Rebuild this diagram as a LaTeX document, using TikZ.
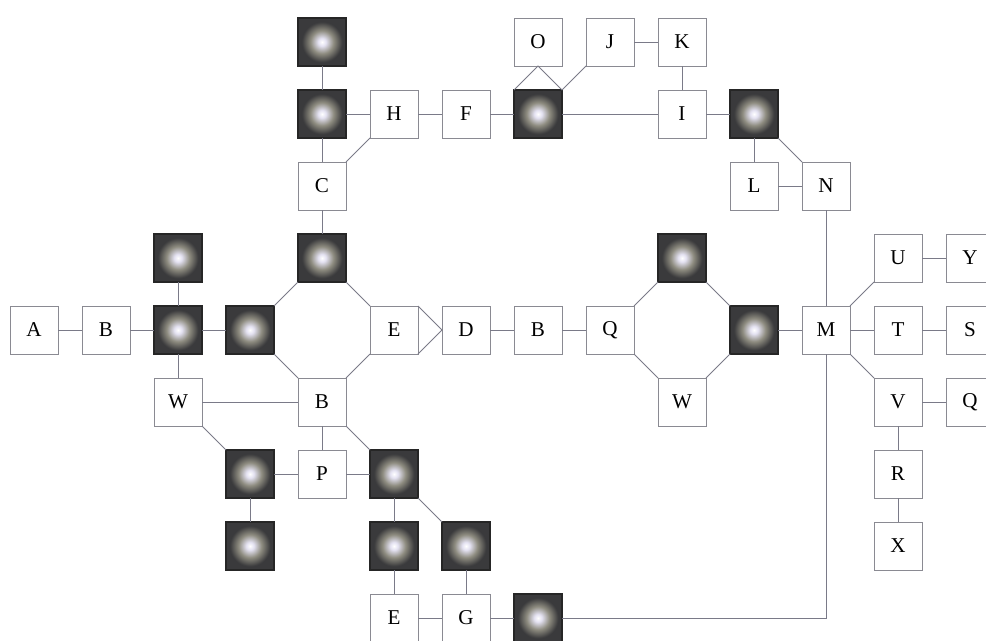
\documentclass[tikz,border=0pt]{standalone}
\usepackage{fontspec}
\setmainfont{Liberation Serif}
\definecolor{boxline}{HTML}{8A8A92}
\definecolor{linecol}{HTML}{7A7A88}
\definecolor{glowedge}{HTML}{3A3A3C}
\definecolor{glowmid}{HTML}{8E8C80}
\definecolor{glowin}{HTML}{E4E2F2}
\pgfdeclareradialshading{glow}{\pgfpoint{0bp}{0bp}}{color(0bp)=(white); color(4bp)=(glowin); color(12bp)=(glowmid); color(21bp)=(glowedge); color(25bp)=(glowedge); color(50bp)=(glowedge)}
\tikzset{
  box/.style={draw=boxline, line width=0.7pt, fill=white, minimum size=1.44cm, inner sep=0pt, outer sep=0pt, font=\fontsize{18}{18}\selectfont},
  glowbox/.style={draw=black!85, line width=0.9pt, shading=glow, minimum size=1.44cm, inner sep=0pt, outer sep=0pt},
  link/.style={draw=linecol, line width=0.7pt}
}
\begin{document}
\begin{tikzpicture}[x=0.03cm, y=-0.03cm]
\useasboundingbox (0,0) rectangle (986,640);
% white boxes
\node[box] (a)  at (34,330)  {A};
\node[box] (b1) at (106,330) {B};
\node[box] (w1) at (178,402) {W};
\node[box] (c)  at (322,186) {C};
\node[box] (h)  at (394,114) {H};
\node[box] (f)  at (466,114) {F};
\node[box] (o)  at (538,42)  {O};
\node[box] (j)  at (610,42)  {J};
\node[box] (k)  at (682,42)  {K};
\node[box] (i)  at (682,114) {I};
\node[box] (l)  at (754,186) {L};
\node[box] (n)  at (826,186) {N};
\node[box] (e1) at (394,330) {E};
\node[box] (d)  at (466,330) {D};
\node[box] (b2) at (538,330) {B};
\node[box] (q1) at (610,330) {Q};
\node[box] (w2) at (682,402) {W};
\node[box] (m)  at (826,330) {M};
\node[box] (u)  at (898,258) {U};
\node[box] (y)  at (970,258) {Y};
\node[box] (t)  at (898,330) {T};
\node[box] (s)  at (970,330) {S};
\node[box] (v)  at (898,402) {V};
\node[box] (q2) at (970,402) {Q};
\node[box] (r)  at (898,474) {R};
\node[box] (x)  at (898,546) {X};
\node[box] (b3) at (322,402) {B};
\node[box] (p)  at (322,474) {P};
\node[box] (e2) at (394,618) {E};
\node[box] (g)  at (466,618) {G};
% glowing boxes
\node[glowbox] (g24)  at (178,330) {};
\node[glowbox] (g23)  at (178,258) {};
\node[glowbox] (g34)  at (250,330) {};
\node[glowbox] (g43)  at (322,258) {};
\node[glowbox] (g41)  at (322,114) {};
\node[glowbox] (g40)  at (322,42)  {};
\node[glowbox] (g71)  at (538,114) {};
\node[glowbox] (g101) at (754,114) {};
\node[glowbox] (g93)  at (682,258) {};
\node[glowbox] (g104) at (754,330) {};
\node[glowbox] (g36)  at (250,474) {};
\node[glowbox] (g37)  at (250,546) {};
\node[glowbox] (g56)  at (394,474) {};
\node[glowbox] (g57)  at (394,546) {};
\node[glowbox] (g67)  at (466,546) {};
\node[glowbox] (g78)  at (538,618) {};
% connectors
\draw[link] (a) -- (b1);
\draw[link] (b1) -- (g24);
\draw[link] (g24) -- (g23);
\draw[link] (g24) -- (w1);
\draw[link] (g24) -- (g34);
\draw[link] (g34.north east) -- (g43.south west);
\draw[link] (g43.south east) -- (e1.north west);
\draw[link] (e1.south west) -- (b3.north east);
\draw[link] (b3.north west) -- (g34.south east);
\draw[link] (g43) -- (c);
\draw[link] (c) -- (g41);
\draw[link] (g41) -- (g40);
\draw[link] (g41) -- (h);
\draw[link] (c.north east) -- (h.south west);
\draw[link] (h) -- (f);
\draw[link] (f) -- (g71);
\draw[link] (g71.north west) -- (o.south) -- (g71.north east);
\draw[link] (g71.north east) -- (j.south west);
\draw[link] (j) -- (k);
\draw[link] (k) -- (i);
\draw[link] (g71) -- (i);
\draw[link] (i) -- (g101);
\draw[link] (g101) -- (l);
\draw[link] (g101.south east) -- (n.north west);
\draw[link] (l) -- (n);
\draw[link] (n) -- (m);
\draw[link] (e1.north east) -- (d.west) -- (e1.south east);
\draw[link] (d) -- (b2);
\draw[link] (b2) -- (q1);
\draw[link] (q1.north east) -- (g93.south west);
\draw[link] (g93.south east) -- (g104.north west);
\draw[link] (g104.south west) -- (w2.north east);
\draw[link] (w2.north west) -- (q1.south east);
\draw[link] (g104) -- (m);
\draw[link] (m.north east) -- (u.south west);
\draw[link] (m) -- (t);
\draw[link] (m.south east) -- (v.north west);
\draw[link] (u) -- (y);
\draw[link] (t) -- (s);
\draw[link] (v) -- (q2);
\draw[link] (v) -- (r);
\draw[link] (r) -- (x);
\draw[link] (m.south) |- (g78.east);
\draw[link] (w1) -- (b3);
\draw[link] (w1.south east) -- (g36.north west);
\draw[link] (g36) -- (p);
\draw[link] (g36) -- (g37);
\draw[link] (b3) -- (p);
\draw[link] (b3.south east) -- (g56.north west);
\draw[link] (p) -- (g56);
\draw[link] (g56) -- (g57);
\draw[link] (g56.south east) -- (g67.north west);
\draw[link] (g57) -- (e2);
\draw[link] (g67) -- (g);
\draw[link] (e2) -- (g);
\draw[link] (g) -- (g78);
\end{tikzpicture}
\end{document}
